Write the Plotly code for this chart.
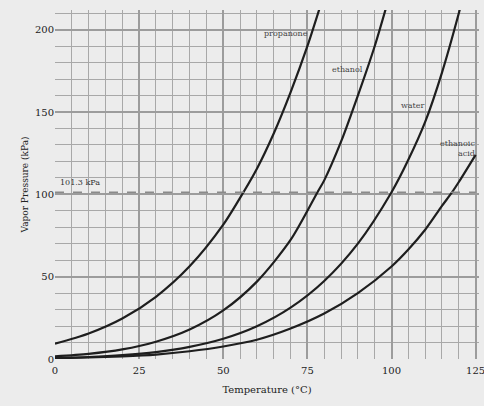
import plotly.graph_objects as go

# Temperature (°C) and vapor pressure (kPa)
prop_T = [0, 10, 20, 30, 40, 50, 56, 60, 65, 70, 75, 80]
prop_P = [9.3, 15.5, 24.6, 37.8, 56.3, 81.6, 101.3, 115.6, 137, 162, 190, 222]

eth_T = [0, 10, 20, 30, 40, 50, 60, 70, 78, 80, 85, 90, 95, 100]
eth_P = [1.6, 3.1, 5.8, 10.5, 17.9, 29.5, 47.0, 72.3, 101.3, 108.5, 132, 160, 190, 225]

wat_T = [0, 10, 20, 30, 40, 50, 60, 70, 80, 90, 100, 105, 110, 115, 120, 125]
wat_P = [0.6, 1.2, 2.3, 4.2, 7.4, 12.3, 19.9, 31.2, 47.4, 70.1, 101.3, 121, 144, 174, 210, 250]

acid_T = [0, 10, 20, 30, 40, 50, 60, 70, 80, 90, 100, 105, 110, 115, 118, 120, 125]
acid_P = [0.5, 0.9, 1.6, 2.7, 4.7, 7.6, 11.7, 18.5, 27.6, 40.0, 56.2, 66.5, 78.5, 93, 101.3, 107.5, 124]

ref_P = 101.3

labels = ["propanone", "ethanol", "water", "ethanoic", "acid"]
label_T = [68.5, 87, 106.5, 125.5, 125.5]
label_P = [198, 176, 154, 131, 125]
label_anchor = ["center", "center", "center", "right", "right"]

fig = go.Figure()
for T, P in [(prop_T, prop_P), (eth_T, eth_P), (wat_T, wat_P), (acid_T, acid_P)]:
    fig.add_trace(go.Scatter(x=T, y=P, mode="lines", line=dict(color="#1e1e1e", width=2.2, shape="spline", smoothing=0.8),
                             showlegend=False, hoverinfo="skip"))

fig.add_trace(go.Scatter(x=[0, 125], y=[ref_P, ref_P], mode="lines",
                         line=dict(color="#8a8a8a", width=1.5, dash="dash"),
                         showlegend=False, hoverinfo="skip"))

for t, x, y, a in zip(labels, label_T, label_P, label_anchor):
    fig.add_annotation(x=x, y=y, text=t, showarrow=False, xanchor=a,
                       font=dict(size=8, color="#444", family="DejaVu Serif"))
fig.add_annotation(x=1, y=ref_P + 6, text="101.3 kPa", showarrow=False, xanchor="left",
                   font=dict(size=8, color="#333", family="DejaVu Serif"))

axis_common = dict(showline=False, zeroline=False, ticks="", automargin=False,
                   ticklabeloverflow="allow",
                   tickfont=dict(size=10, color="#222", family="DejaVu Serif"),
                   gridcolor="#9c9c9c", gridwidth=1.5)

fig.update_xaxes(range=[0, 126], tickvals=[0, 25, 50, 75, 100, 125], ticklabelstandoff=4,
                 minor=dict(dtick=5, showgrid=True, gridcolor="#a8a8a8", gridwidth=1.3),
                 title=dict(text="Temperature (°C)", font=dict(size=10, color="#222", family="DejaVu Serif"), standoff=10),
                 **axis_common)
fig.update_yaxes(range=[0, 212], tickvals=[0, 50, 100, 150, 200],
                 minor=dict(dtick=10, showgrid=True, gridcolor="#a8a8a8", gridwidth=1.3),
                 title=dict(text="Vapor Pressure (kPa)", font=dict(size=9, color="#222", family="DejaVu Serif"), standoff=4),
                 **axis_common)

fig.update_layout(width=484, height=406, margin=dict(l=55, r=5, t=10, b=47),
                  paper_bgcolor="#ececec", plot_bgcolor="#ececec")

fig.write_html("out.html", config={"displayModeBar": False},
               post_script="document.body.style.margin='0';document.body.style.overflow='hidden';document.body.style.background='#ececec';")
